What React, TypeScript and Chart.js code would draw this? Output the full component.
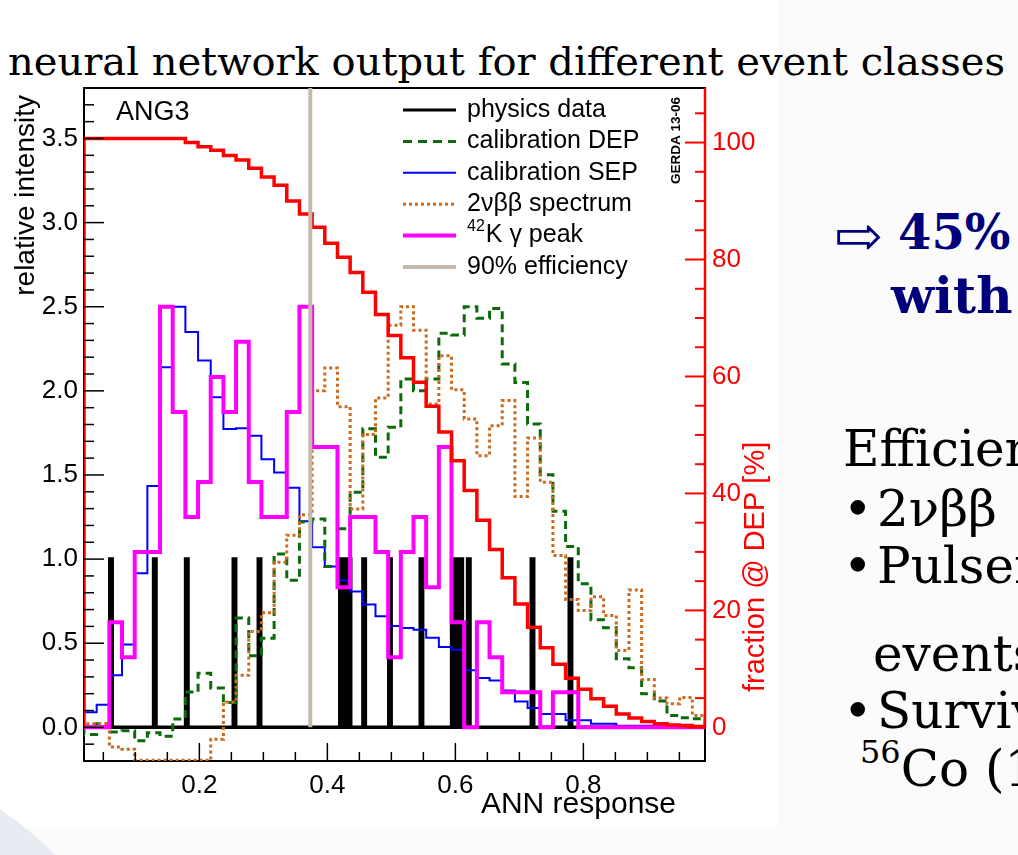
import React, { useEffect, useRef } from 'react';
import { Chart, registerables } from 'chart.js';

Chart.register(...registerables);

// Histogram binning: 50 bins of width 0.0198 on [0, 0.99]; the first bin is off-scale.
const BIN_WIDTH = 0.0198;
const X_MIN = 0.0198;
const X_MAX = 0.99;

// calibration SEP (relative intensity), bins 1..49
const calibrationSEP = [
  0.09, 0.134, 0.309, 0.493, 0.916, 1.434, 2.141, 2.5, 2.35, 2.18,
  1.962, 1.773, 1.778, 1.733, 1.593, 1.514, 1.424, 1.225, 1.071, 0.956,
  0.873, 0.807, 0.73, 0.661, 0.603, 0.59, 0.58, 0.533, 0.477, 0.461,
  0.339, 0.293, 0.279, 0.219, 0.154, 0.115, 0.08, 0.08, 0.042, 0.042,
  0.022, 0.022, 0.01, 0.01, 0.01, 0.005, 0.004, 0.003, 0.002,
];

// 42K gamma peak
const potassiumPeak = [
  0, 0, 0.625, 0.417, 1.042, 1.042, 2.5, 1.875, 1.25, 1.458,
  2.083, 1.875, 2.292, 1.458, 1.25, 1.25, 1.875, 2.5, 1.667, 1.667,
  0.833, 1.25, 1.25, 1.042, 0.417, 1.042, 1.25, 0.833, 1.667, 0.625,
  0, 0.625, 0.417, 0.208, 0.208, 0.208, 0, 0.208, 0.208, 0,
  0, 0, 0, 0, 0, 0, 0, 0, 0,
];

// calibration DEP
const calibrationDEP = [
  -0.042, 0.022, -0.028, -0.02, -0.08, -0.032, -0.053, 0.05, 0.21, 0.322,
  0.234, 0.148, 0.65, 0.425, 0.53, 1.031, 0.875, 1.22, 1.239, 0.956,
  1.18, 1.397, 1.774, 1.605, 1.783, 2.07, 2.001, 2.07, 2.342, 2.332,
  2.5, 2.431, 2.49, 2.16, 2.05, 1.803, 1.502, 1.285, 1.075, 0.853,
  0.639, 0.592, 0.408, 0.354, 0.2, 0.156, 0.071, 0.057, 0.051,
];

// 2vbb spectrum
const twoNuBetaBeta = [
  0.022, 0.022, -0.117, -0.13, -0.196, -0.196, -0.196, -0.196, -0.196, -0.196,
  -0.07, 0.15, 0.309, 0.57, 0.681, 0.982, 1.142, 1.264, 2.0, 2.136,
  1.906, 1.298, 1.74, 1.958, 2.39, 2.5, 2.36, 1.922, 2.209, 2.006,
  1.833, 1.615, 1.793, 1.942, 1.372, 1.72, 1.457, 1.021, 0.76, 0.695,
  0.776, 0.665, 0.457, 0.817, 0.284, 0.175, 0.14, 0.178, 0.071,
];

// surviving fraction of DEP events above the cut [%]
const depFraction = [
  100.7, 100.7, 100.7, 100.7, 100.7, 100.7, 100.7, 100.7, 100.0, 99.3,
  98.7, 97.8, 97.0, 95.6, 94.1, 92.7, 90.0, 87.8, 85.5, 82.8,
  80.4, 77.8, 74.4, 70.6, 67.0, 63.2, 59.0, 54.9, 50.5, 45.6,
  40.5, 35.4, 30.4, 25.6, 21.1, 17.1, 13.6, 10.8, 8.4, 6.5,
  4.9, 3.6, 2.3, 1.6, 1.0, 0.6, 0.4, 0.3, 0.15,
];

// ANN response of the individual physics-data events
const physicsEvents = [
  0.062, 0.1304, 0.1804, 0.2549, 0.294, 0.4213, 0.4275, 0.4346, 0.4575,
  0.4978, 0.547, 0.596, 0.6025, 0.6091, 0.621, 0.7205, 0.7798,
];
const PHYSICS_RANGE_END = 0.96;
const EVENT_HALF_WIDTH = 0.0019;

// cut value for 90% DEP survival
const CUT_90 = 0.3733;

const xTickValues = [0.2, 0.4, 0.6, 0.8];
const leftTickValues = [0, 0.5, 1, 1.5, 2, 2.5, 3, 3.5];
const rightTickValues = [0, 20, 40, 60, 80, 100];

const LEFT_MIN = -0.2;
const LEFT_MAX = 3.8;
// the percent axis: 100 % corresponds to 3.4757 on the intensity axis
const PERCENT_PER_UNIT = 100 / 3.4757;

const SANS = '"Liberation Sans", Arial, Helvetica, sans-serif';

const COLORS = {
  data: '#000000',
  dep: '#0b6b0b',
  sep: '#0000ff',
  bb: '#cc6a1c',
  k42: '#ff00ff',
  cut: '#c2b8ae',
  frac: '#ff0000',
};

type Pt = { x: number; y: number };

function histogramPoints(values: number[]): Pt[] {
  const pts: Pt[] = [{ x: X_MIN, y: 0 }];
  values.forEach((v, i) => {
    const lo = (i + 1) * BIN_WIDTH;
    const hi = (i + 2) * BIN_WIDTH;
    pts.push({ x: lo, y: v }, { x: hi, y: v });
  });
  pts.push({ x: X_MAX, y: 0 });
  return pts;
}

function eventPoints(events: number[]): Pt[] {
  const pts: Pt[] = [{ x: X_MIN, y: 0 }];
  events.forEach((e) => {
    pts.push(
      { x: e - EVENT_HALF_WIDTH, y: 0 },
      { x: e - EVENT_HALF_WIDTH, y: 1 },
      { x: e + EVENT_HALF_WIDTH, y: 1 },
      { x: e + EVENT_HALF_WIDTH, y: 0 },
    );
  });
  pts.push({ x: PHYSICS_RANGE_END, y: 0 });
  return pts;
}

const legendEntries = [
  { text: 'physics data', color: COLORS.data, width: 3, dash: [] as number[] },
  { text: 'calibration DEP', color: COLORS.dep, width: 3, dash: [9, 6] },
  { text: 'calibration SEP', color: COLORS.sep, width: 2, dash: [] },
  { text: '2νββ spectrum', color: COLORS.bb, width: 3, dash: [3, 3] },
  { text: 'K γ peak', sup: '42', color: COLORS.k42, width: 4, dash: [] },
  { text: '90% efficiency', color: COLORS.cut, width: 4, dash: [] },
];

const seg = (ctx: any, x1: number, y1: number, x2: number, y2: number) => {
  ctx.beginPath();
  ctx.moveTo(x1, y1);
  ctx.lineTo(x2, y2);
  ctx.stroke();
};

// frame first, so the histograms that start on its edge stay visible
const frame = {
  id: 'frame',
  beforeDatasetsDraw(chart: any) {
    const { ctx, chartArea: a } = chart;
    ctx.save();
    ctx.strokeStyle = '#000';
    ctx.lineWidth = 2;
    ctx.strokeRect(a.left, a.top, a.right - a.left, a.bottom - a.top);
    ctx.restore();
  },
};

const axisTicks = {
  id: 'axisTicks',
  afterDatasetsDraw(chart: any) {
    const { ctx, chartArea: a, scales } = chart;
    const x = scales.x;
    const y = scales.y;
    const y2 = scales.y2;
    ctx.save();
    ctx.strokeStyle = '#000';
    ctx.lineWidth = 1.5;
    for (let i = -1; i <= 38; i++) {
      const py = y.getPixelForValue(i / 10);
      seg(ctx, a.left, py, a.left + (i % 5 === 0 ? 20 : 10), py);
    }
    for (let i = 1; i <= 19; i++) {
      const px = x.getPixelForValue(i * 0.05);
      seg(ctx, px, a.bottom, px, a.bottom - (i % 4 === 0 ? 18 : 9));
    }
    ctx.strokeStyle = COLORS.frac;
    ctx.lineWidth = 2.5;
    seg(ctx, a.right, y2.getPixelForValue(0), a.right, a.top);
    ctx.lineWidth = 2;
    for (let p = 0; p <= 105; p += 5) {
      const py = y2.getPixelForValue(p);
      seg(ctx, a.right - (p % 20 === 0 ? 20 : 10), py, a.right, py);
    }
    ctx.restore();
  },
};

const annotations = {
  id: 'annotations',
  afterDraw(chart: any) {
    const { ctx } = chart;
    ctx.save();
    // legend
    legendEntries.forEach((e, i) => {
      const yy = 110 + i * 31.4;
      ctx.strokeStyle = e.color;
      ctx.lineWidth = e.width;
      ctx.setLineDash(e.dash);
      seg(ctx, 403, yy, 456, yy);
      ctx.setLineDash([]);
      ctx.fillStyle = '#000';
      ctx.textBaseline = 'middle';
      ctx.textAlign = 'left';
      let tx = 467;
      if (e.sup) {
        ctx.font = `16px ${SANS}`;
        ctx.fillText(e.sup, tx, yy - 9);
        tx += ctx.measureText(e.sup).width + 1;
      }
      ctx.font = `25px ${SANS}`;
      ctx.fillText(e.text, tx, yy);
    });

    // label in the frame
    ctx.font = `27px ${SANS}`;
    ctx.textBaseline = 'alphabetic';
    ctx.fillText('ANG3', 116, 120);

    ctx.save();
    ctx.translate(680, 184);
    ctx.rotate(-Math.PI / 2);
    ctx.font = `bold 13.5px ${SANS}`;
    ctx.fillText('GERDA 13-06', 0, 0);
    ctx.restore();

    // axis titles
    ctx.textAlign = 'right';
    ctx.font = `30px ${SANS}`;
    ctx.fillText('ANN response', 676, 813);

    ctx.save();
    ctx.translate(34, 95);
    ctx.rotate(-Math.PI / 2);
    ctx.font = `28px ${SANS}`;
    ctx.textAlign = 'right';
    ctx.fillText('relative intensity', 0, 0);
    ctx.restore();

    ctx.save();
    ctx.translate(764, 692);
    ctx.rotate(-Math.PI / 2);
    ctx.font = `29px ${SANS}`;
    ctx.textAlign = 'left';
    ctx.fillStyle = COLORS.frac;
    ctx.fillText('fraction @ DEP [%]', 0, 0);
    ctx.restore();

    ctx.restore();
  },
};

function AnnChart() {
  const ref = useRef<HTMLCanvasElement>(null);

  useEffect(() => {
    const canvas = ref.current;
    if (!canvas) return;
    const line = (data: Pt[], color: string, width: number, order: number, extra: any = {}) => ({
      data,
      borderColor: color,
      backgroundColor: color,
      borderWidth: width,
      pointRadius: 0,
      fill: false,
      tension: 0,
      borderJoinStyle: 'miter',
      borderCapStyle: 'butt',
      order,
      yAxisID: 'y',
      ...extra,
    });

    const chart = new Chart(canvas, {
      type: 'line',
      data: {
        datasets: [
          line([{ x: CUT_90, y: 0 }, { x: CUT_90, y: LEFT_MAX }], COLORS.cut, 4, 0, { label: '90% efficiency' }),
          line(histogramPoints(depFraction), COLORS.frac, 3.5, 1, { label: 'fraction @ DEP', yAxisID: 'y2' }),
          line(histogramPoints(potassiumPeak), COLORS.k42, 4, 2, { label: '42K γ peak' }),
          line(histogramPoints(twoNuBetaBeta), COLORS.bb, 3, 3, { label: '2νββ spectrum', borderDash: [3, 3] }),
          line(histogramPoints(calibrationDEP), COLORS.dep, 3, 4, { label: 'calibration DEP', borderDash: [8, 5] }),
          line(histogramPoints(calibrationSEP), COLORS.sep, 2, 5, { label: 'calibration SEP' }),
          line(eventPoints(physicsEvents), COLORS.data, 3.5, 6, { label: 'physics data' }),
        ],
      },
      options: {
        responsive: false,
        animation: false,
        devicePixelRatio: 1,
        layout: { padding: { top: 88, left: 0, right: 0, bottom: 0 } },
        plugins: { legend: { display: false }, tooltip: { enabled: false } },
        scales: {
          x: {
            type: 'linear',
            min: X_MIN,
            max: X_MAX,
            afterBuildTicks: (s: any) => {
              s.ticks = xTickValues.map((value) => ({ value }));
            },
            afterFit: (s: any) => {
              s.height = 94;
            },
            grid: { display: false, drawTicks: false },
            border: { display: false },
            ticks: {
              padding: 9,
              autoSkip: false,
              maxRotation: 0,
              color: '#000',
              font: { family: SANS, size: 26 },
              callback: (v: any) => Number(v).toFixed(1),
            },
          },
          y: {
            type: 'linear',
            position: 'left',
            min: LEFT_MIN,
            max: LEFT_MAX,
            afterBuildTicks: (s: any) => {
              s.ticks = leftTickValues.map((value) => ({ value }));
            },
            afterFit: (s: any) => {
              s.width = 84;
            },
            grid: { display: false, drawTicks: false },
            border: { display: false },
            ticks: {
              padding: 6,
              autoSkip: false,
              color: '#000',
              font: { family: SANS, size: 26 },
              callback: (v: any) => Number(v).toFixed(1),
            },
          },
          y2: {
            type: 'linear',
            position: 'right',
            min: LEFT_MIN * PERCENT_PER_UNIT,
            max: LEFT_MAX * PERCENT_PER_UNIT,
            afterBuildTicks: (s: any) => {
              s.ticks = rightTickValues.map((value) => ({ value }));
            },
            afterFit: (s: any) => {
              s.width = 85;
            },
            grid: { display: false, drawTicks: false },
            border: { display: false },
            ticks: {
              padding: 7,
              autoSkip: false,
              color: COLORS.frac,
              font: { family: SANS, size: 26 },
              callback: (v: any) => String(Math.round(Number(v))),
            },
          },
        },
      },
      plugins: [frame, axisTicks, annotations],
    } as any);

    return () => chart.destroy();
  }, []);

  return (
    <canvas
      ref={ref}
      width={790}
      height={855}
      style={{ position: 'absolute', left: 0, top: 0, width: 790, height: 855 }}
    />
  );
}

const SERIF = '"DejaVu Serif", "Liberation Serif", serif';

export default function App() {
  const line = (top: number, left: number, size: number, extra: any = {}) => ({
    position: 'absolute' as const,
    top,
    left,
    fontFamily: SERIF,
    fontSize: size,
    lineHeight: 1,
    whiteSpace: 'nowrap' as const,
    color: '#000',
    ...extra,
  });
  const navy = { fontWeight: 'bold', color: '#00007a' };

  return (
    <div
      style={{
        position: 'absolute',
        left: 0,
        top: 0,
        width: 1018,
        height: 855,
        overflow: 'hidden',
        background: '#fbfbfb',
      }}
    >
      <div style={{ position: 'absolute', left: 0, top: 0, width: 778, height: 828, background: '#ffffff' }} />
      <div
        style={{
          position: 'absolute',
          left: -561,
          top: 749,
          width: 722,
          height: 722,
          borderRadius: '50%',
          background: '#e9ebf2',
        }}
      />
      <div style={line(41, 8, 40)}>neural network output for different event classes</div>
      <AnnChart />
      <div style={line(207, 834, 58, navy)}>⇨</div>
      <div style={line(208, 898, 48, navy)}>45%</div>
      <div style={line(271, 891, 50, navy)}>with</div>
      <div style={line(424, 843, 50)}>Efficiencies</div>
      <div style={line(484, 843, 50)}>•</div>
      <div style={line(484, 877, 50)}>2νββ</div>
      <div style={line(541, 843, 50)}>•</div>
      <div style={line(541, 877, 50)}>Pulser</div>
      <div style={line(629, 873, 50)}>events</div>
      <div style={line(686, 843, 50)}>•</div>
      <div style={line(686, 877, 50)}>Survival</div>
      <div style={line(744, 860, 50)}>
        <sup style={{ fontSize: 32, verticalAlign: 'top', position: 'relative', top: -8 }}>56</sup>Co (1
      </div>
    </div>
  );
}
